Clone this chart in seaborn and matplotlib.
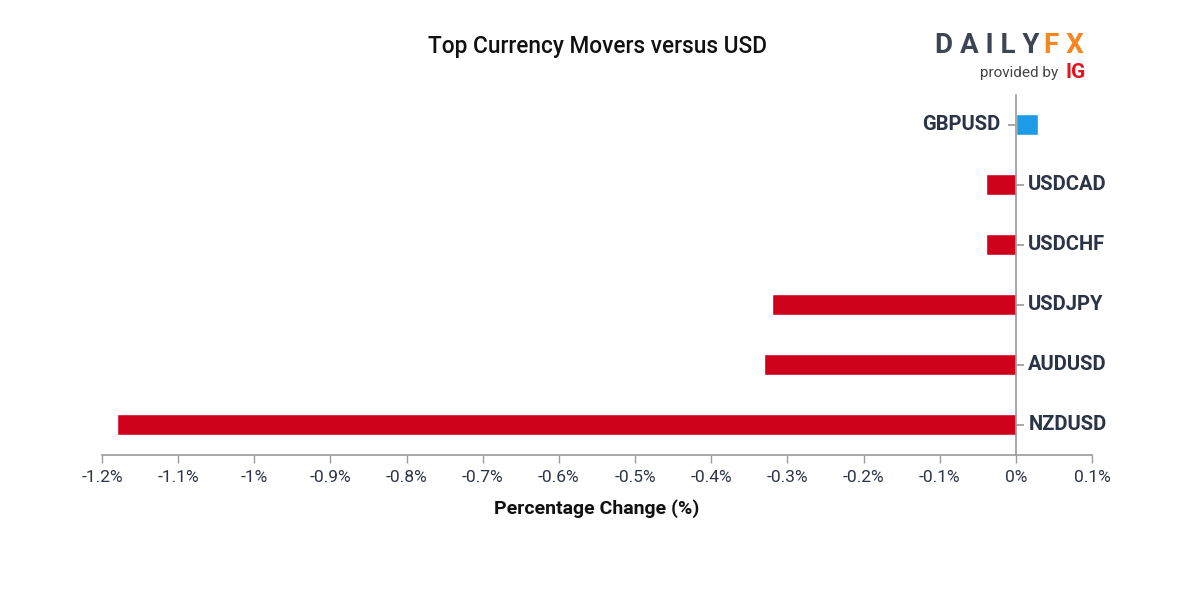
import numpy as np
import pandas as pd
import seaborn as sns
import matplotlib.pyplot as plt
from matplotlib.transforms import offset_copy

# Datos
pairs = ["GBPUSD", "USDCAD", "USDCHF", "USDJPY", "AUDUSD", "NZDUSD"]
changes = [0.029, -0.039, -0.039, -0.32, -0.331, -1.18]
x_ticks = [-1.2, -1.1, -1.0, -0.9, -0.8, -0.7, -0.6, -0.5, -0.4, -0.3, -0.2, -0.1, 0.0, 0.1]
x_ticklabels = ["-1.2%", "-1.1%", "-1%", "-0.9%", "-0.8%", "-0.7%", "-0.6%", "-0.5%",
                "-0.4%", "-0.3%", "-0.2%", "-0.1%", "0%", "0.1%"]

RED = "#d0021b"
BLUE = "#1e9be6"
TXT = "#2b3446"
GRAY = "#9a9a9a"

sns.set_theme(style="white")
plt.rcParams['font.family'] = ['Roboto', 'DejaVu Sans']

df = pd.DataFrame({"pair": pairs, "change": changes})
colors = {p: (BLUE if v > 0 else RED) for p, v in zip(pairs, changes)}

fig = plt.figure(figsize=(12, 6), dpi=100)
ax = fig.add_axes([0.085, 0.2417, 0.825, 0.60])

sns.barplot(data=df, x="change", y="pair", hue="pair", palette=colors,
            orient="h", width=0.35, legend=False, ax=ax, saturation=1)

ax.set_xlim(-1.2, 0.1)
ax.set_ylim(5.5, -0.5)
ax.set_xticks(x_ticks)
ax.set_xticklabels(x_ticklabels, fontsize=12.5, color=TXT)
ax.tick_params(axis='x', direction='out', length=6, width=1, color=GRAY, pad=5, bottom=True)
ax.set_yticks([])
ax.set_ylabel("")
ax.set_xlabel("Percentage Change (%)", fontsize=14, fontweight='bold', color="#111111",
              labelpad=10)

for s in ['top', 'right']:
    ax.spines[s].set_visible(False)
ax.spines['left'].set_position(('data', 0))
ax.spines['left'].set_color(GRAY)
ax.spines['left'].set_linewidth(1.2)
ax.spines['bottom'].set_color(GRAY)
ax.spines['bottom'].set_linewidth(1.2)

# etiquetas de cada par al lado del eje en 0
for i, (p, v) in enumerate(zip(pairs, changes)):
    if v > 0:
        ax.plot(0, i, marker=0, markersize=6, color=GRAY, mew=1.2, clip_on=False)
        tr = offset_copy(ax.transData, fig=fig, x=-11, y=0, units='points')
        ax.text(0, i, p, transform=tr, ha='right', va='center', fontsize=14.5,
                fontweight='bold', color=TXT)
    else:
        ax.plot(0, i, marker=1, markersize=6, color=GRAY, mew=1.2, clip_on=False)
        tr = offset_copy(ax.transData, fig=fig, x=9, y=0, units='points')
        ax.text(0, i, p, transform=tr, ha='left', va='center', fontsize=14.5,
                fontweight='bold', color=TXT)

fig.text(0.498, 0.922, "Top Currency Movers versus USD", ha='center', va='center',
         fontsize=16.3, fontweight='medium', color="#111111")

# logo
fig.text(0.866, 0.924, "D A I L Y", ha='right', va='center', fontsize=20,
         fontweight='bold', color="#3d4554")
fig.text(0.870, 0.924, "F X", ha='left', va='center', fontsize=20,
         fontweight='bold', color="#f7861e")
fig.text(0.882, 0.878, "provided by", ha='right', va='center', fontsize=11,
         color="#444444")
fig.text(0.888, 0.880, "IG", ha='left', va='center', fontsize=15,
         fontweight='bold', color="#e3141f")

plt.savefig("out.png", dpi=100)
